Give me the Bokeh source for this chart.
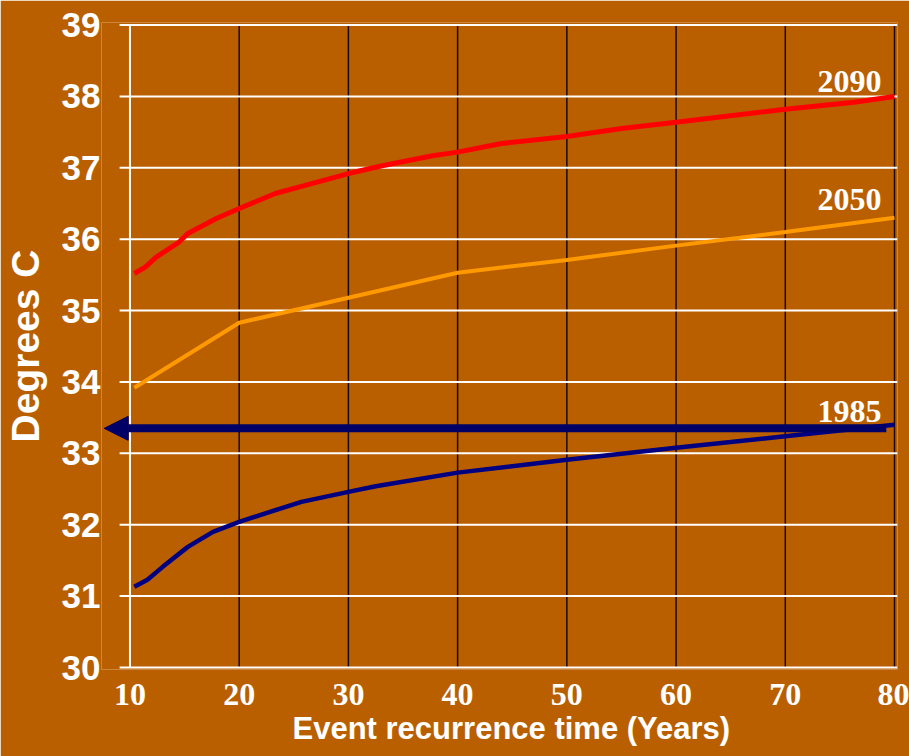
from bokeh.plotting import figure
from bokeh.models import FixedTicker, Arrow, NormalHead, Label, Range1d, Title
from bokeh.embed import file_html
from bokeh.resources import INLINE

# ---- data ----
x_ticks = [10, 20, 30, 40, 50, 60, 70, 80]
y_ticks = [30, 31, 32, 33, 34, 35, 36, 37, 38, 39]

x_2090 = [10.4, 11.4, 12.4, 14.5, 15.3, 17.9, 20, 23.3, 25.7, 30, 33.1, 37.7, 40, 44, 50, 55, 60, 70, 76.3, 80]
y_2090 = [35.52, 35.61, 35.75, 35.96, 36.08, 36.29, 36.43, 36.64, 36.74, 36.92, 37.03, 37.17, 37.22, 37.34, 37.44, 37.55, 37.64, 37.82, 37.92, 38.0]

x_2050 = [10.4, 20, 40, 50, 60, 70, 80]
y_2050 = [33.92, 34.83, 35.53, 35.71, 35.91, 36.1, 36.3]

x_1985 = [10.4, 11.6, 13, 15.3, 17.6, 20, 22.4, 25.7, 30, 32.5, 40, 50, 60, 70, 80]
y_1985 = [31.13, 31.23, 31.41, 31.69, 31.90, 32.04, 32.16, 32.32, 32.46, 32.54, 32.73, 32.91, 33.08, 33.24, 33.40]

series_names = ["2090", "2050", "1985"]
label_y = [38.21, 36.56, 33.58]
threshold_1985 = 33.35          # level of the horizontal arrow
arrow_x = (79.25, 7.64)         # arrow drawn from right to left

BG = "#BA5F00"
WHITE = "white"

p = figure(width=909, height=756,
           x_range=Range1d(7.394, 80.274), y_range=Range1d(29.972, 39.036),
           output_backend="svg", toolbar_location=None,
           min_border_left=100, min_border_right=12,
           min_border_top=22, min_border_bottom=87)

p.background_fill_color = BG
p.border_fill_color = BG
p.outline_line_color = None
p.xgrid.visible = False
p.ygrid.visible = False

y_lo, y_hi = y_ticks[0], y_ticks[-1]
x_lo, x_hi = x_ticks[0], x_ticks[-1]

# vertical black grid lines (20..80)
vx = x_ticks[1:]
p.segment(x0=vx, y0=[y_lo] * len(vx), x1=vx, y1=[y_hi] * len(vx),
          line_color="#1a0a00", line_width=1.5)
# horizontal white grid lines (extend a little left of the axis like ticks)
p.segment(x0=[x_lo - 0.95] * len(y_ticks), y0=y_ticks,
          x1=[x_hi + 0.27] * len(y_ticks), y1=y_ticks,
          line_color=WHITE, line_width=2)
# white vertical axis line at x = 10
p.segment(x0=[x_lo], y0=[y_lo], x1=[x_lo], y1=[y_hi], line_color=WHITE, line_width=2)

# x axis (labels only)
xa = p.xaxis[0]
xa.ticker = FixedTicker(ticks=x_ticks)
xa.axis_line_color = None
xa.major_tick_line_color = None
xa.minor_tick_line_color = None
xa.major_label_text_font = "Liberation Serif"
xa.major_label_text_font_style = "bold"
xa.major_label_text_font_size = "32px"
xa.major_label_text_color = WHITE
xa.major_label_standoff = 8

p.add_layout(Title(text="Event recurrence time (Years)", align="left", offset=191,
                   text_font="Liberation Sans", text_font_style="bold",
                   text_font_size="31px", text_color=WHITE, standoff=2), "below")

# y axis
ya = p.yaxis[0]
ya.ticker = FixedTicker(ticks=y_ticks)
ya.axis_line_color = None
ya.major_tick_line_color = None
ya.minor_tick_line_color = None
ya.major_tick_out = 0
ya.major_tick_in = 0
ya.major_label_text_font = "Liberation Sans"
ya.major_label_text_font_style = "bold"
ya.major_label_text_font_size = "35px"
ya.major_label_text_color = WHITE
ya.major_label_standoff = 1
ya.axis_label = "Degrees C"
ya.axis_label_text_font = "Liberation Sans"
ya.axis_label_text_font_style = "bold"
ya.axis_label_text_font_size = "39px"
ya.axis_label_text_color = WHITE
ya.axis_label_standoff = 12

# curves
p.line(x_2050, y_2050, line_color="#FF9900", line_width=4)
p.line(x_2090, y_2090, line_color="#FF0000", line_width=5)
p.line(x_1985, y_1985, line_color="#000080", line_width=4.5)

# arrow
p.add_layout(Arrow(end=NormalHead(size=24, fill_color="#000066", line_color="#000066", line_width=1),
                   x_start=arrow_x[0], y_start=threshold_1985,
                   x_end=arrow_x[1], y_end=threshold_1985,
                   line_color="#000066", line_width=8))

# series labels
for name, ly in zip(series_names, label_y):
    p.add_layout(Label(x=78.8, y=ly, text=name, text_align="right", text_baseline="alphabetic",
                       text_font="Liberation Serif", text_font_style="bold",
                       text_font_size="32px", text_color=WHITE))

open("out.html", "w").write(file_html(p, INLINE))
